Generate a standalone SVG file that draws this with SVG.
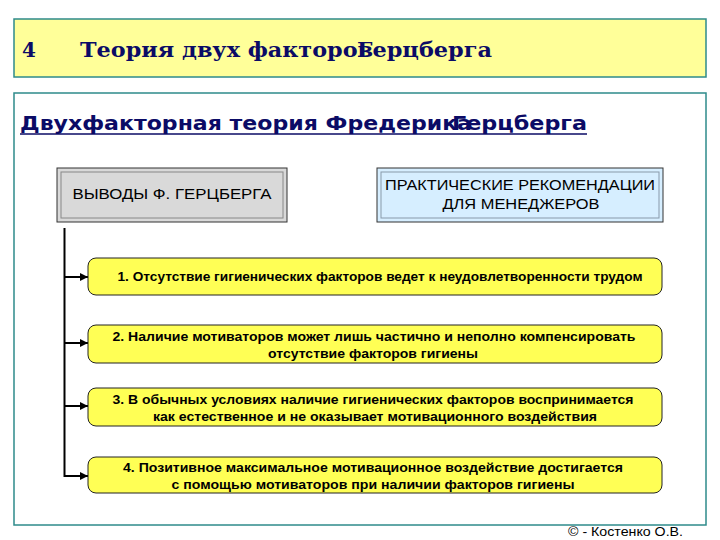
<svg xmlns="http://www.w3.org/2000/svg" width="720" height="540" viewBox="0 0 720 540">
<defs>
<marker id="arr" viewBox="0 0 10 10" refX="10" refY="5" markerWidth="8" markerHeight="8" markerUnits="userSpaceOnUse" orient="auto"><path d="M0,0 L10,5 L0,10 z" fill="#000"/></marker>
<style>
.panel{stroke:#2E8B8B;stroke-width:1.5}
.t1{font-family:"DejaVu Serif","Liberation Serif",serif;font-weight:bold;font-size:20px;fill:#0B0B66}
.t2{font-family:"DejaVu Sans","Liberation Sans",sans-serif;font-weight:bold;font-size:19px;fill:#0B0B66}
.hb{font-family:"Liberation Sans",Arial,sans-serif;font-size:15px;fill:#000;text-anchor:middle}
.yb{fill:#FFFF55;stroke:#222;stroke-width:1}
.yt{font-family:"Liberation Sans",Arial,sans-serif;font-weight:bold;font-size:13px;fill:#000;text-anchor:middle}
.conn{stroke:#000;stroke-width:2;fill:none}
</style>
</defs>
<rect width="720" height="540" fill="#fff"/>
<g id="header">
<rect class="panel" x="14" y="19" width="692" height="58" fill="#FFFF99"/>
<text class="t1" x="22" y="57">4</text>
<text class="t1" x="80" y="57" textLength="293" lengthAdjust="spacingAndGlyphs">Теория двух факторов</text>
<text class="t1" x="357" y="57" textLength="135" lengthAdjust="spacingAndGlyphs">Герцберга</text>
</g>
<g id="panel">
<rect class="panel" x="14" y="93" width="692" height="432" fill="#fff"/>
<text class="t2" x="20" y="130" textLength="452" lengthAdjust="spacingAndGlyphs">Двухфакторная теория Фредерика</text>
<text class="t2" x="452" y="130" textLength="135" lengthAdjust="spacingAndGlyphs">Герцберга</text>
<line x1="20" y1="134" x2="587" y2="134" stroke="#0B0B66" stroke-width="1.5"/>
</g>
<g id="conclusions">
<rect x="57" y="168" width="230" height="54" fill="#D9D9D9" stroke="#333" stroke-width="1"/>
<rect x="61" y="172" width="222" height="46" fill="none" stroke="#888" stroke-width="1"/>
<text class="hb" x="172" y="199" textLength="199" lengthAdjust="spacingAndGlyphs">ВЫВОДЫ Ф. ГЕРЦБЕРГА</text>
</g>
<g id="recommendations">
<rect x="377" y="168" width="286" height="54" fill="#D6EEFF" stroke="#333" stroke-width="1"/>
<rect x="381" y="172" width="278" height="46" fill="none" stroke="#8899AA" stroke-width="1"/>
<text class="hb" x="520" y="190" textLength="270" lengthAdjust="spacingAndGlyphs">ПРАКТИЧЕСКИЕ РЕКОМЕНДАЦИИ</text>
<text class="hb" x="521" y="209" textLength="157" lengthAdjust="spacingAndGlyphs">ДЛЯ МЕНЕДЖЕРОВ</text>
</g>
<g id="connectors">
<line class="conn" x1="64.5" y1="228" x2="64.5" y2="477"/>
<line class="conn" x1="64" y1="277" x2="88" y2="277" marker-end="url(#arr)"/>
<line class="conn" x1="64" y1="343" x2="88" y2="343" marker-end="url(#arr)"/>
<line class="conn" x1="64" y1="406" x2="88" y2="406" marker-end="url(#arr)"/>
<line class="conn" x1="64" y1="476" x2="88" y2="476" marker-end="url(#arr)"/>
</g>
<g id="item1">
<rect class="yb" x="88" y="258" width="574" height="37" rx="8"/>
<text class="yt" x="380" y="281" textLength="525" lengthAdjust="spacingAndGlyphs">1. Отсутствие гигиенических факторов ведет к неудовлетворенности трудом</text>
</g>
<g id="item2">
<rect class="yb" x="88" y="325" width="574" height="38" rx="8"/>
<text class="yt" x="374" y="341" textLength="523" lengthAdjust="spacingAndGlyphs">2. Наличие мотиваторов может лишь частично и неполно компенсировать</text>
<text class="yt" x="373" y="358" textLength="210" lengthAdjust="spacingAndGlyphs">отсутствие факторов гигиены</text>
</g>
<g id="item3">
<rect class="yb" x="88" y="388" width="574" height="38" rx="8"/>
<text class="yt" x="373" y="404" textLength="521" lengthAdjust="spacingAndGlyphs">3. В обычных условиях наличие гигиенических факторов воспринимается</text>
<text class="yt" x="375" y="421" textLength="444" lengthAdjust="spacingAndGlyphs">как естественное и не оказывает мотивационного воздействия</text>
</g>
<g id="item4">
<rect class="yb" x="88" y="457" width="574" height="36" rx="8"/>
<text class="yt" x="373" y="472" textLength="500" lengthAdjust="spacingAndGlyphs">4. Позитивное максимальное мотивационное воздействие достигается</text>
<text class="yt" x="373" y="489" textLength="403" lengthAdjust="spacingAndGlyphs">с помощью мотиваторов при наличии факторов гигиены</text>
</g>
<text x="568" y="536" font-family="Liberation Sans,Arial,sans-serif" font-size="13" fill="#000" textLength="115" lengthAdjust="spacingAndGlyphs">© - Костенко О.В.</text>
</svg>
